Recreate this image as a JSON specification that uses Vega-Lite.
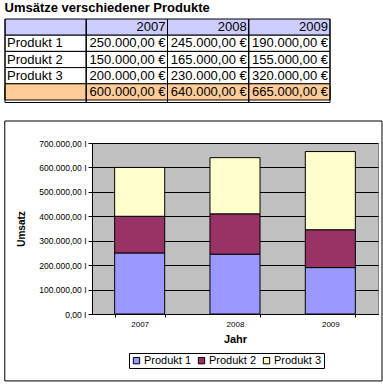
{
  "$schema": "https://vega.github.io/schema/vega-lite/v6.json",
  "background": "white",
  "padding": {"left": 3, "top": 1, "right": 0, "bottom": 0},
  "spacing": 17,
  "columns": 1,
  "resolve": {"legend": {"color": "independent"}},
  "config": {
    "locale": {"number": {"decimal": ",", "thousands": ".", "grouping": [3], "currency": ["", " €"]}},
    "font": "Liberation Sans",
    "text": {"font": "Liberation Sans", "fontSize": 13, "color": "black"}
  },
  "datasets": {
    "umsatz": [
      {"Produkt": "Produkt 1", "Jahr": "2007", "Umsatz": 250000},
      {"Produkt": "Produkt 1", "Jahr": "2008", "Umsatz": 245000},
      {"Produkt": "Produkt 1", "Jahr": "2009", "Umsatz": 190000},
      {"Produkt": "Produkt 2", "Jahr": "2007", "Umsatz": 150000},
      {"Produkt": "Produkt 2", "Jahr": "2008", "Umsatz": 165000},
      {"Produkt": "Produkt 2", "Jahr": "2009", "Umsatz": 155000},
      {"Produkt": "Produkt 3", "Jahr": "2007", "Umsatz": 200000},
      {"Produkt": "Produkt 3", "Jahr": "2008", "Umsatz": 230000},
      {"Produkt": "Produkt 3", "Jahr": "2009", "Umsatz": 320000}
    ],
    "spalten": [{"Spalte": "Name"}, {"Spalte": "2007"}, {"Spalte": "2008"}, {"Spalte": "2009"}],
    "zeilen": [{"Zeile": "Kopf"}, {"Zeile": "Produkt 1"}, {"Zeile": "Produkt 2"}, {"Zeile": "Produkt 3"}, {"Zeile": "Summe"}],
    "zellen": [
      {"Zeile": "Kopf", "Spalte": "Name"}, {"Zeile": "Kopf", "Spalte": "2007"}, {"Zeile": "Kopf", "Spalte": "2008"}, {"Zeile": "Kopf", "Spalte": "2009"},
      {"Zeile": "Produkt 1", "Spalte": "Name"}, {"Zeile": "Produkt 1", "Spalte": "2007"}, {"Zeile": "Produkt 1", "Spalte": "2008"}, {"Zeile": "Produkt 1", "Spalte": "2009"},
      {"Zeile": "Produkt 2", "Spalte": "Name"}, {"Zeile": "Produkt 2", "Spalte": "2007"}, {"Zeile": "Produkt 2", "Spalte": "2008"}, {"Zeile": "Produkt 2", "Spalte": "2009"},
      {"Zeile": "Produkt 3", "Spalte": "Name"}, {"Zeile": "Produkt 3", "Spalte": "2007"}, {"Zeile": "Produkt 3", "Spalte": "2008"}, {"Zeile": "Produkt 3", "Spalte": "2009"},
      {"Zeile": "Summe", "Spalte": "Name"}, {"Zeile": "Summe", "Spalte": "2007"}, {"Zeile": "Summe", "Spalte": "2008"}, {"Zeile": "Summe", "Spalte": "2009"}
    ]
  },
  "concat": [
    {
      "title": {"text": "Umsätze verschiedener Produkte", "anchor": "start", "frame": "bounds", "fontSize": 13, "fontWeight": "bold", "font": "Liberation Sans", "color": "black", "offset": 4},
      "width": 238,
      "height": 81,
      "view": {"stroke": null},
      "layer": [
        {
          "data": {"name": "zellen"},
          "transform": [{"filter": "datum.Zeile === 'Summe'"}],
          "mark": {"type": "rect", "filled": false, "stroke": "black", "strokeWidth": 1, "yOffset": 2.5},
          "encoding": {
            "x": {"field": "Spalte", "type": "nominal", "scale": {"domain": ["Name", "2007", "2008", "2009"], "range": [-87, 238], "paddingInner": 0, "paddingOuter": 0}, "axis": null},
            "y": {"field": "Zeile", "type": "nominal", "scale": {"domain": ["Kopf", "Produkt 1", "Produkt 2", "Produkt 3", "Summe"], "paddingInner": 0, "paddingOuter": 0}, "axis": null}
          }
        },
        {
          "data": {"name": "zellen"},
          "mark": {"type": "rect", "stroke": "black", "strokeWidth": 1},
          "encoding": {
            "x": {"field": "Spalte", "type": "nominal"},
            "y": {"field": "Zeile", "type": "nominal"},
            "fill": {"condition": [{"test": "datum.Zeile === 'Kopf'", "value": "#CCCCFF"}, {"test": "datum.Zeile === 'Summe'", "value": "#FFCC99"}], "value": "white"},
            "strokeDash": {"condition": {"test": "datum.Zeile === 'Kopf' || datum.Zeile === 'Summe'", "value": [1, 0]}, "value": [1, 1]}
          }
        },
        {
          "data": {"name": "spalten"},
          "mark": {"type": "rule", "color": "black", "strokeWidth": 1},
          "encoding": {
            "x": {"field": "Spalte", "type": "nominal", "bandPosition": 0}
          }
        },
        {
          "data": {"name": "spalten"},
          "transform": [{"filter": "datum.Spalte === '2009'"}],
          "mark": {"type": "rule", "color": "black", "strokeWidth": 1},
          "encoding": {
            "x": {"field": "Spalte", "type": "nominal", "bandPosition": 1}
          }
        },
        {
          "data": {"name": "spalten"},
          "transform": [{"filter": "datum.Spalte !== 'Name'"}],
          "mark": {"type": "text", "align": "right", "baseline": "middle", "dx": -2},
          "encoding": {
            "x": {"field": "Spalte", "type": "nominal", "bandPosition": 1},
            "y": {"datum": "Kopf", "type": "nominal", "bandPosition": 0.5},
            "text": {"field": "Spalte"}
          }
        },
        {
          "data": {"name": "zeilen"},
          "transform": [{"filter": "datum.Zeile !== 'Kopf' && datum.Zeile !== 'Summe'"}],
          "mark": {"type": "text", "align": "left", "baseline": "middle", "dx": 2},
          "encoding": {
            "x": {"datum": "Name", "type": "nominal", "bandPosition": 0},
            "y": {"field": "Zeile", "type": "nominal", "bandPosition": 0.5},
            "text": {"field": "Zeile"}
          }
        },
        {
          "data": {"name": "umsatz"},
          "mark": {"type": "text", "align": "right", "baseline": "middle", "dx": -2},
          "encoding": {
            "x": {"field": "Jahr", "type": "nominal", "bandPosition": 1},
            "y": {"field": "Produkt", "type": "nominal", "bandPosition": 0.5},
            "text": {"field": "Umsatz", "type": "quantitative", "format": "$,.2f"}
          }
        },
        {
          "data": {"name": "umsatz"},
          "transform": [{"aggregate": [{"op": "sum", "field": "Umsatz", "as": "Gesamt"}], "groupby": ["Jahr"]}],
          "mark": {"type": "text", "align": "right", "baseline": "middle", "dx": -2},
          "encoding": {
            "x": {"field": "Jahr", "type": "nominal", "bandPosition": 1},
            "y": {"datum": "Summe", "type": "nominal", "bandPosition": 0.5},
            "text": {"field": "Gesamt", "type": "quantitative", "format": "$,.2f"}
          }
        }
      ]
    },
    {
      "width": 286,
      "height": 171,
      "view": {"fill": "#C0C0C0", "stroke": "#808080", "strokeWidth": 1},
      "data": {"name": "umsatz"},
      "layer": [
        {
          "transform": [{"aggregate": [{"op": "count", "as": "n"}]}],
          "mark": {"type": "rect", "filled": false, "stroke": "black", "strokeWidth": 1},
          "encoding": {
            "x": {"datum": -0.305, "type": "quantitative", "scale": {"domain": [0, 1], "nice": false, "zero": false}, "axis": null},
            "x2": {"datum": 1.014},
            "y": {
              "datum": 790000, "type": "quantitative",
              "scale": {"domain": [0, 700000], "nice": false},
              "axis": {"title": "Umsatz", "titleFontSize": 10, "titleFontWeight": "bold", "titleColor": "black", "titlePadding": 12, "values": [0, 100000, 200000, 300000, 400000, 500000, 600000, 700000], "format": ",.2f", "labelExpr": "datum.label + ' I'", "labelOverlap": false, "labelFontSize": 8.5, "labelColor": "black", "labelPadding": 2, "tickSize": 4, "tickColor": "black", "domainColor": "black", "grid": true, "gridColor": "black", "gridOpacity": 1}
            },
            "y2": {"datum": -274000}
          }
        },
        {
          "mark": {"type": "bar", "stroke": "black", "strokeWidth": 1},
          "encoding": {
            "x": {
              "field": "Jahr", "type": "nominal",
              "scale": {"paddingInner": 0.475, "paddingOuter": 0.2375},
              "axis": {"title": "Jahr", "titleFontSize": 11, "titleFontWeight": "bold", "titleColor": "black", "titlePadding": 5, "labelAngle": 0, "labelFontSize": 8, "labelColor": "black", "labelPadding": 3, "tickBand": "extent", "tickSize": 3, "tickColor": "black", "domainColor": "black", "grid": false}
            },
            "y": {
              "field": "Umsatz", "type": "quantitative", "stack": "zero",
              "scale": {"domain": [0, 700000], "nice": false},
              "axis": {"title": "Umsatz", "titleFontSize": 10, "titleFontWeight": "bold", "titleColor": "black", "titlePadding": 12, "values": [0, 100000, 200000, 300000, 400000, 500000, 600000, 700000], "format": ",.2f", "labelExpr": "datum.label + ' I'", "labelOverlap": false, "labelFontSize": 8.5, "labelColor": "black", "labelPadding": 2, "tickSize": 4, "tickColor": "black", "domainColor": "black", "grid": true, "gridColor": "black", "gridOpacity": 1}
            },
            "color": {
              "field": "Produkt", "type": "nominal",
              "scale": {"domain": ["Produkt 1", "Produkt 2", "Produkt 3"], "range": ["#9999FF", "#993366", "#FFFFCC"]},
              "legend": {"orient": "none", "legendX": 37, "legendY": 210, "direction": "horizontal", "title": null, "strokeColor": "black", "fillColor": "white", "padding": 2, "symbolType": "square", "symbolSize": 40, "symbolStrokeColor": "black", "symbolStrokeWidth": 1, "labelFontSize": 11, "labelColor": "black", "columnPadding": 4, "labelOffset": 2}
            },
            "order": {"field": "Produkt", "sort": "ascending"}
          }
        }
      ],
      "resolve": {"scale": {"x": "independent"}, "axis": {"x": "independent"}}
    }
  ]
}
